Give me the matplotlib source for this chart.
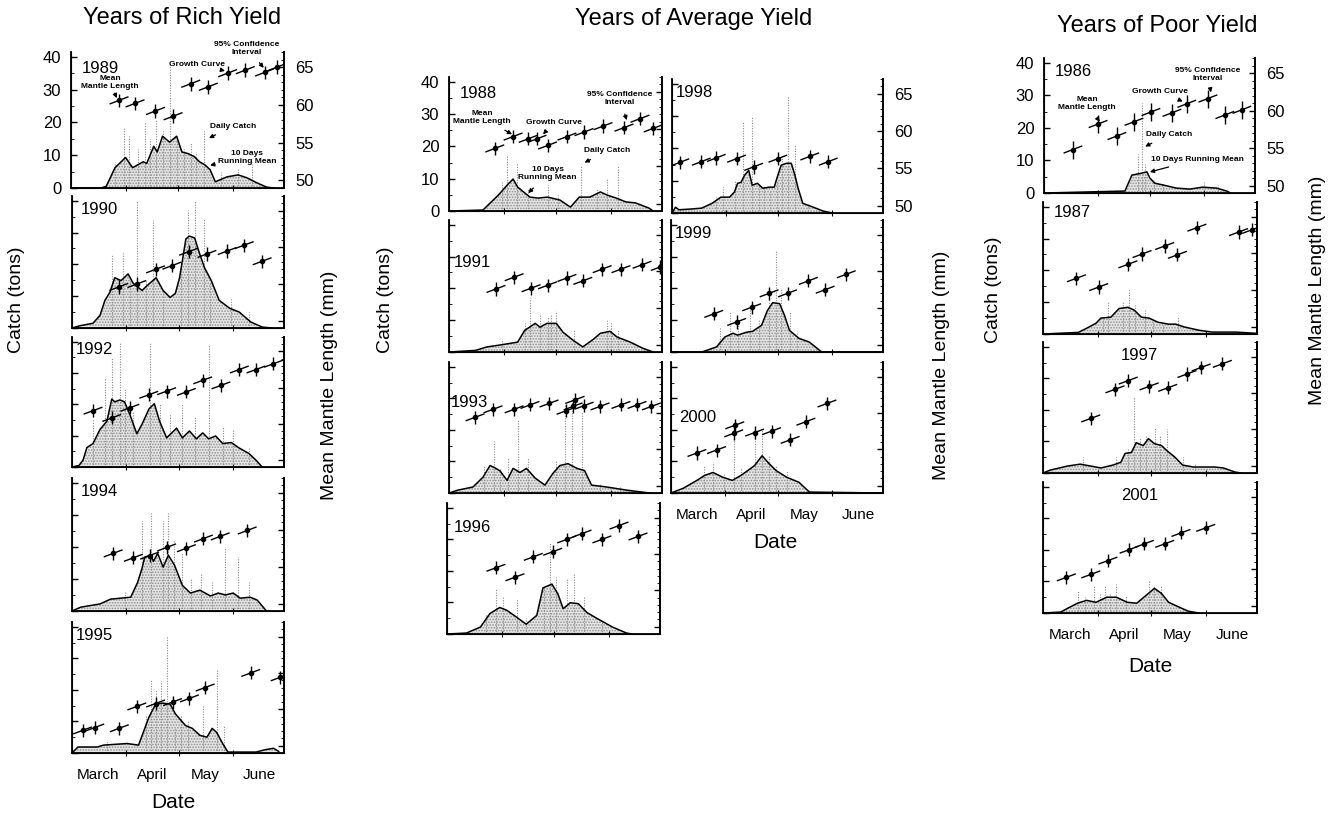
import matplotlib.pyplot as plt

plt.rcParams['font.family'] = ['Liberation Sans', 'DejaVu Sans']
plt.rcParams['hatch.linewidth'] = 0.8
plt.rcParams['hatch.color'] = '#8f8f8f'

W, H = 1342, 816

# x axis: days after 1 March
months = ['March', 'April', 'May', 'June']
month_start = [31, 61, 92]
month_mid = [15, 46, 76, 107]

# 10 days running mean of catch (day, tons)
run_1989 = [(0, 0), (17, 0), (20, 0.5), (25, 6.2), (31, 9.3), (35, 6.2), (41, 8), (43, 7.5), (47, 12.7), (49, 11),
            (52, 15.8), (56, 14), (60, 15.8), (63, 11), (66.5, 10.5), (70, 9.6), (73, 8), (76, 7.1), (79, 5.6),
            (82, 1.9), (88.6, 3.4), (95, 4), (100, 3.1), (105.5, 1.6), (111, 0.3), (115, 0)]
run_1990 = [(0, 0), (4.5, 0.7), (12, 1.5), (16, 4), (18.8, 8.7), (21.6, 11.2), (24.4, 15.8), (28, 14.9), (32, 17),
            (35, 14), (40, 11.8), (43, 13.4), (48, 15.8), (52, 11.8), (56, 9.6), (59, 10.9), (61.4, 15.8), (65, 28),
            (67, 28.9), (70, 28.3), (72.7, 23.6), (75.6, 19), (79.5, 14.9), (84, 8.7), (90, 6.2), (95.5, 5),
            (102, 1.9), (108.5, 0.3), (114, 0)]
run_1992 = [(0, 0), (4, 0.5), (6.3, 2.2), (8.5, 6.2), (12, 7.5), (16, 12), (19.9, 14.6), (22.7, 21.7), (24.4, 20.8),
            (27.3, 21.4), (30, 20.8), (33, 16.8), (37, 10.6), (40, 13.7), (44, 18.6), (47, 20.2), (50, 14.6),
            (54, 9.3), (59.7, 12.4), (63, 9.3), (67, 11.5), (71, 9), (74.6, 10.9), (78, 9), (82, 9.9), (86, 7.5),
            (91, 7.8), (95, 6.2), (101, 4.3), (105, 2.2), (108.5, 0)]
run_1994 = [(0, 0), (5, 1.2), (16, 2.2), (22, 3.7), (33.5, 4.3), (37.5, 9), (40, 13.4), (41.5, 16.8), (44.9, 17.4),
            (46.5, 15.5), (48.9, 18), (52, 13.7), (55, 17.4), (58.5, 14.3), (63, 8), (67.6, 5.6), (73, 6.5),
            (79, 4.7), (83.5, 5.6), (87.5, 5), (92, 5.6), (96, 4), (101.7, 4.3), (105.7, 3.4), (111, 0)]
run_1995 = [(0, 0), (3.4, 1.9), (14.5, 1.9), (18, 2.5), (31.4, 3), (38, 2.5), (41, 7), (43.8, 11.2), (47.7, 15.5),
            (51.7, 15.8), (56, 15.5), (59, 12.4), (64.8, 8.7), (68.7, 7.8), (73, 5.6), (77, 5), (80, 7.8),
            (82.6, 6.5), (86, 3), (89, 0.3), (105, 0.3), (110, 1), (115, 1.5), (118, 0.5)]
run_1988 = [(0, 0), (19.3, 0.3), (24, 2.8), (28, 4.9), (33, 8), (36.4, 9.9), (39, 7.4), (43, 5.6), (46, 4.3),
            (50.6, 4), (56, 4.3), (63, 3.4), (69, 1.2), (74, 4.3), (80, 4.3), (86, 5.9), (90, 4.9), (95, 4),
            (100.6, 2.8), (106, 2.5), (113.6, 0.9), (116, 0)]
run_1991 = [(0, 0), (15, 0.5), (21.6, 1.6), (29, 2.2), (39, 3.1), (43, 6.8), (49, 9), (51.7, 7.8), (55.6, 9),
            (61, 9), (64.8, 6.2), (70.5, 3.7), (76, 1.6), (82, 4), (86, 5.9), (91.5, 6.5), (95.5, 4.7), (103, 3.1),
            (110, 1.2), (116, 0)]
run_1993 = [(0, 0), (5, 0.9), (13.6, 1.9), (19.3, 5), (23.3, 8.7), (26, 8), (29, 7), (33, 4), (36.4, 7.8),
            (40.3, 6.5), (44, 7.8), (49, 4.7), (54.5, 2.5), (59, 6.2), (63, 8.7), (67.6, 9.3), (72.7, 7.8),
            (77, 7.1), (81, 2.5), (89.6, 1.9), (101, 0.9), (114, 0)]
run_1996 = [(0, 0), (11, 0.3), (19, 2.2), (24.4, 6.5), (30, 8.4), (34, 7.5), (39.6, 5.3), (45, 3.1), (51, 5.9),
            (54.5, 14.6), (59.6, 15.8), (63, 12.7), (66, 8), (70, 9.9), (74.6, 9.6), (79.5, 6.8), (85, 5),
            (94, 2.2), (102, 0.3), (105, 0)]
run_1998 = [(0, 0), (2, 1.8), (4, 1), (10, 1.2), (17, 1.5), (23, 3), (28, 4.9), (33, 4.9), (35.8, 6.5),
            (37.6, 9.2), (39.6, 9.5), (41.6, 11.7), (44, 13.2), (46, 8.6), (49, 9.2), (52, 7.7), (56, 8),
            (58.6, 8), (60.7, 11.7), (62.6, 14.8), (65.6, 15.4), (68.4, 15.4), (70.5, 11.7), (72.3, 7.7),
            (75, 3), (81, 1.8), (86.7, 0.6), (92, 0)]
run_1999 = [(0, 0), (17.6, 0), (26, 1.6), (30.7, 4.7), (35.4, 5.9), (38, 5.3), (43, 6.2), (46.6, 6.5),
            (51.7, 8.4), (55, 13), (58, 15.5), (62, 15.2), (64.8, 11.5), (67.6, 6.8), (73, 4.3), (79, 3.1),
            (86, 0), (121, 0)]
run_2000 = [(0, 0), (7, 1.5), (14.8, 4), (19.3, 5.6), (24, 6.5), (29.5, 5), (35, 4), (40, 5.6), (43.8, 7.1),
            (47.7, 8.7), (52, 11.8), (56, 9.3), (60, 7.1), (66, 5), (73, 3.4), (79, 0.3), (121, 0)]
run_1986 = [(0, 0), (46.4, 0.6), (50.4, 5.5), (56, 6.1), (59, 6.5), (60.7, 4.6), (63.6, 3), (68, 2.5), (76, 1.5),
            (83.6, 1.2), (91, 1.8), (99, 1.5), (104.8, 0.6), (107, 0)]
run_1987 = [(0, 0), (20, 0.5), (25, 1.9), (30, 3.4), (32.7, 5), (38.4, 5.3), (43, 8), (48, 8.4), (51.6, 7.5),
            (55.6, 5.3), (60, 5), (65, 3.7), (71, 3.1), (75, 3.1), (80, 2.2), (88, 1.2), (95.7, 0.6), (109, 0.6),
            (121, 0.2)]
run_1997 = [(0, 0), (4, 0.9), (13.8, 2.2), (21, 2.8), (27, 2.2), (32.7, 1.6), (39.5, 2.5), (44, 3.4), (46.4, 6.2),
            (50, 6.5), (52.7, 9.6), (56.7, 8.7), (59.6, 10.9), (63, 9.3), (67, 8.7), (70, 7.1), (74.6, 5), (79, 2.5),
            (85, 1.9), (97, 1.9), (102, 1.6), (108.6, 0.3), (112, 0)]
run_2001 = [(0, 0), (10, 0.3), (14.3, 1.6), (19.5, 3.1), (24.6, 4), (30, 3.4), (36, 5), (41.5, 5), (47.6, 3.4),
            (53, 3.1), (59.6, 6.2), (63, 7.8), (67, 6.2), (71, 3.4), (76.8, 1.9), (82, 0.6), (88, 0)]

# daily catch (day, tons)
daily_1989 = [(25, 8), (30, 18.6), (33, 16), (38, 12), (42, 19.9), (45, 15), (48.5, 21), (52, 18), (56, 37.6),
              (60, 16), (64, 12), (68, 14), (71, 11), (75.5, 17.4), (85, 5), (95, 6), (103, 8)]
daily_1990 = [(22.6, 23.3), (29, 23.6), (33, 15), (37, 40), (42, 15), (46, 34), (52, 12), (62, 20), (66, 37),
              (70, 40), (75.6, 34.5), (79, 14), (91, 9), (101, 5)]
daily_1992 = [(12, 15), (18.8, 28), (22.7, 35), (27.3, 40), (30, 25), (35, 18), (44.3, 40), (50, 20), (56, 17),
              (63, 20), (70, 16), (78, 39), (86, 13), (92, 12), (101, 6)]
daily_1994 = [(30, 6), (40, 28), (45, 31), (51.7, 28), (55, 31), (58, 22), (63, 18), (68, 10), (73.6, 12),
              (80, 9), (87.5, 20), (95, 17), (101, 9)]
daily_1995 = [(20, 4), (42, 12), (45, 23.6), (48, 20), (50.6, 22.7), (54.5, 37), (59, 8), (62, 12), (66, 10),
              (75, 15), (82.6, 26.7), (87, 9)]
daily_1988 = [(30, 9), (33, 17.3), (38.6, 15), (45, 7), (56, 8), (62, 5), (75, 14), (84, 7), (90, 10), (96, 14)]
daily_1991 = [(30, 4), (43, 9), (46, 17), (51.7, 12), (56, 11), (58, 12), (61, 13), (71, 7), (89.6, 10.5),
              (92, 9), (96, 7)]
daily_1993 = [(20, 9), (25.6, 16.5), (29, 8), (33.5, 11), (39, 23.6), (45, 11), (61, 10), (66, 29), (70, 30),
              (75.6, 25.8), (86, 3), (97, 2)]
daily_1996 = [(22, 6), (28, 14.3), (32, 12), (39.6, 11), (45, 5), (55, 15), (58.5, 29), (62, 18), (68, 17.4),
              (72, 19.3), (78, 12), (88, 4)]
daily_1998 = [(25, 5), (29, 8), (36, 10), (40.5, 28.6), (46, 30), (50, 9), (53, 8), (56, 7), (60, 10), (63, 18),
              (66.5, 36.3), (70.5, 21), (78, 3)]
daily_1999 = [(28, 8), (33.5, 13), (38, 9), (45, 14), (50, 10), (56, 18.5), (60, 32), (63, 20), (68, 13), (72, 6)]
daily_2000 = [(19, 9), (24, 9.8), (30, 6), (36, 19.6), (40, 8), (48, 19), (52, 20), (56, 12), (60, 9), (66, 7)]
daily_1986 = [(54, 12), (56, 27.7), (58, 9), (63, 4), (68, 3), (91.7, 3.4), (100, 2.5)]
daily_1987 = [(34, 5), (37, 10), (45, 10), (48.7, 14.3), (52, 9), (57.7, 7.5), (62, 4), (68, 3), (76.5, 5.5)]
daily_1997 = [(22.7, 5), (41, 5), (48, 8), (51.6, 24), (55, 11), (58, 12), (63.6, 14.3), (66, 12), (70, 14),
              (79, 5), (86, 3)]
daily_2001 = [(20, 7), (24, 5), (28.6, 8.7), (32, 6), (35, 8.7), (38, 6), (41.5, 9.3), (47, 5.6), (60, 10),
              (63, 9), (66.5, 9)]

# mean mantle length (day, mm)
ml_1989 = [(27.3, 60.6), (36.4, 60.2), (48, 59.2), (58, 58.5), (68, 62.8), (78, 62.4), (89, 64.2), (99, 64.6),
           (110, 64.3), (117, 65)]
ml_1990 = [(26.7, 54.6), (37, 55), (47.7, 57), (57, 57.5), (66.5, 59.4), (77, 59.1), (88.6, 59.5), (98.3, 60.3),
           (108.5, 58.1)]
ml_1992 = [(12, 56.8), (22.7, 55.8), (33, 57.2), (43.8, 59), (54, 59.5), (65.3, 59.4), (74.6, 61), (85, 60.3),
           (95.5, 62.5), (105, 62.5), (115, 63.3)]
ml_1994 = [(23.5, 56.8), (35, 56.2), (44.3, 56.5), (54, 57.6), (65.3, 57.5), (75, 58.8), (84.6, 59.1), (100, 59.9)]
ml_1995 = [(6, 52.1), (13, 52.5), (27, 52.4), (37, 55.4), (47.7, 55.8), (57.4, 56), (67, 56.5), (76, 58),
           (102, 60), (118.8, 59.4)]
ml_1988 = [(26, 57.4), (36.4, 59), (45, 58.7), (50, 58.7), (56, 57.8), (67, 59), (76.7, 59.6), (87.5, 60.4),
           (99.4, 60.2), (108.5, 61.4), (116, 60.1)]
ml_1991 = [(26.7, 57.6), (37, 59.2), (46.6, 57.7), (56, 58.1), (67, 59.1), (76, 58.7), (87, 60.3), (97.7, 60.3),
           (109.7, 60.9), (120, 60.6)]
ml_1993 = [(14.8, 59.4), (25, 60.5), (37, 60.5), (46, 61.1), (56.8, 61.3), (66.5, 60.3), (70.5, 60.9),
           (71.6, 61.8), (76.7, 61), (85.8, 60.9), (97.7, 61.1), (106.8, 61.1), (115, 60.9)]
ml_1996 = [(27.8, 58.1), (38.6, 56.8), (49, 59.6), (60, 60.3), (68, 62), (76.7, 62.8), (88, 62), (97.7, 63.9),
           (108.5, 62.4)]
ml_1998 = [(4.5, 55.8), (16.8, 55.9), (25.4, 56.4), (37, 56.3), (46.8, 55.2), (60.7, 56.3), (79, 56.6),
           (89.6, 55.9)]
ml_1999 = [(24.4, 54.2), (37.5, 53.1), (46, 55.1), (56, 57), (66.5, 57), (78.4, 58.7), (88, 57.5), (100, 59.6)]
ml_2000 = [(14.8, 54.5), (26, 54.9), (35.8, 57.2), (36.4, 58.3), (47.7, 57.3), (57.4, 57.5), (68, 56.3),
           (77, 58.8), (89, 61.3)]
ml_1986 = [(16.6, 54.8), (31, 58.2), (41.8, 56.6), (51.6, 58.5), (61.3, 59.8), (73.4, 59.7), (81.9, 60.9),
           (94, 61.6), (103.7, 59.4), (113.5, 60.1)]
ml_1987 = [(18.9, 56.6), (31.5, 55.4), (48, 58.5), (56, 59.9), (68.8, 61), (76, 59.8), (87, 63.5), (110.6, 62.9),
           (118, 63.2)]
ml_1997 = [(27, 56.5), (40.7, 60.5), (48.2, 61.7), (60, 60.9), (70.5, 60.7), (81.4, 62.6), (89.4, 63.5),
           (101.4, 64)]
ml_2001 = [(13.2, 53.9), (27, 54.3), (36.7, 56.2), (48.7, 57.7), (57.3, 58.5), (68.8, 58.5), (78, 60), (92, 60.7)]

# key labels in the first panel of each group: (text, text pos, arrow tip) in (day, mm)
notes_1989 = [('Mean\nMantle Length', (22.2, 62.9), (26, 60.9)),
              ('Growth Curve', (71.5, 65.4), (87.5, 64.5)),
              ('95% Confidence\nInterval', (100, 67.5), (109.5, 64.9)),
              ('Daily Catch', (92, 57.2), (78.4, 55.6)),
              ('10 Days\nRunning Mean', (100, 53.1), (79, 52))]
notes_1988 = [('Mean\nMantle Length', (18.8, 61.6), (35.8, 59.3)),
              ('Growth Curve', (59.7, 60.9), (53.4, 59.3)),
              ('95% Confidence\nInterval', (97, 64.1), (101, 61.2)),
              ('Daily Catch', (90, 57.1), (77, 55.5)),
              ('10 Days\nRunning Mean', (56, 54), (45, 51.4))]
notes_1986 = [('Mean\nMantle Length', (24.6, 60.9), (32, 58.5)),
              ('Growth Curve', (66.5, 62.5), (79.6, 61.2)),
              ('95% Confidence\nInterval', (94, 64.8), (95.7, 62.4)),
              ('Daily Catch', (72, 56.8), (58, 55.2)),
              ('10 Days Running Mean', (88, 53.5), (60.7, 51.8))]

fig = plt.figure(figsize=(W / 100, H / 100), dpi=100)


def panel(box, year, run, daily, ml, ypos, ha='left', left_lab=False, right_lab=False,
          month_lab=False, notes=None, ci=0.9):
    x0, y0, x1, y1 = box
    ax = fig.add_axes([x0 / W, 1 - y1 / H, (x1 - x0) / W, (y1 - y0) / H])
    rx = [d for d, c in run]
    ry = [c for d, c in run]
    ax.fill_between(rx, ry, 0, facecolor='#e6e6e6', hatch='......', edgecolor='#8f8f8f', lw=0, zorder=1)
    ax.vlines([d for d, c in daily], 0, [c for d, c in daily], colors='#8a8a8a', lw=0.8,
              linestyles=(0, (1, 1.3)), zorder=2)
    ax.plot(rx, ry, color='black', lw=1.1, zorder=3)
    ax.set_xlim(0, 121)
    ax.set_ylim(0, 41.5)
    ax.set_yticks([0, 10, 20, 30, 40])
    ax.set_yticks(range(0, 41, 5), minor=True)
    ax.tick_params(axis='y', which='major', direction='in', length=4, width=1, labelsize=12, pad=7,
                   labelleft=left_lab)
    ax.tick_params(axis='y', which='minor', direction='in', length=2)
    ax.set_xticks(month_start)
    ax.tick_params(axis='x', which='major', direction='inout', length=4, labelbottom=False)
    if month_lab:
        ax.set_xticks(month_mid, minor=True)
        ax.set_xticklabels(months, minor=True)
        ax.tick_params(axis='x', which='minor', length=0, labelsize=11, pad=11)
    ax.spines['top'].set_visible(False)
    for s in ['left', 'bottom', 'right']:
        ax.spines[s].set_linewidth(1.3)
    ax.text(ypos[0], ypos[1], str(year), transform=ax.transAxes, ha=ha, va='center', fontsize=12)

    ax2 = ax.twinx()
    ax2.set_ylim(49, 67)
    ax2.set_yticks([50, 55, 60, 65])
    ax2.set_yticks(range(49, 68), minor=True)
    ax2.tick_params(axis='y', which='major', direction='in', length=4, width=1, labelsize=12, pad=8,
                    labelright=right_lab)
    ax2.tick_params(axis='y', which='minor', direction='in', length=2)
    ax2.spines['top'].set_visible(False)
    ax2.spines['right'].set_linewidth(1.3)
    for d, m in ml:
        # growth curve piece through each mean
        ax2.plot([d - 5, d + 5], [m - 0.45, m + 0.45], color='black', lw=1, zorder=4)
        ax2.errorbar(d, m, yerr=ci, fmt='o', ms=3, color='black', elinewidth=1, capsize=0, zorder=5)
    if notes:
        for txt, pos, tip in notes:
            ax2.annotate(txt, xy=tip, xytext=pos, textcoords='data', fontsize=6, fontweight='bold',
                         ha='center', va='center', annotation_clip=False,
                         arrowprops=dict(arrowstyle='-|>', color='black', lw=0.9, mutation_scale=6,
                                         shrinkA=4, shrinkB=0))
    return ax


# rich yield
panel((71, 52, 284, 188), 1989, run_1989, daily_1989, ml_1989, (0.05, 0.88), left_lab=True, right_lab=True,
      notes=notes_1989)
panel((72, 196, 284, 328), 1990, run_1990, daily_1990, ml_1990, (0.04, 0.9))
panel((72, 337, 284, 467), 1992, run_1992, daily_1992, ml_1992, (0.02, 0.9))
panel((72, 478, 284, 611), 1994, run_1994, daily_1994, ml_1994, (0.04, 0.9))
panel((72, 622, 284, 753), 1995, run_1995, daily_1995, ml_1995, (0.02, 0.9), month_lab=True)

# average yield
panel((449, 77, 662, 211), 1988, run_1988, daily_1988, ml_1988, (0.05, 0.88), left_lab=True, notes=notes_1988)
panel((449, 220, 662, 352), 1991, run_1991, daily_1991, ml_1991, (0.02, 0.68))
panel((449, 362, 662, 493), 1993, run_1993, daily_1993, ml_1993, (0.01, 0.69))
panel((447, 503, 660, 634), 1996, run_1996, daily_1996, ml_1996, (0.03, 0.81))
panel((672, 79, 883, 213), 1998, run_1998, daily_1998, ml_1998, (0.02, 0.9), right_lab=True)
panel((671, 220, 883, 352), 1999, run_1999, daily_1999, ml_1999, (0.02, 0.9))
panel((671, 362, 883, 493), 2000, run_2000, daily_2000, ml_2000, (0.04, 0.58), month_lab=True)

# poor yield
panel((1044, 58, 1255, 193), 1986, run_1986, daily_1986, ml_1986, (0.05, 0.9), left_lab=True, right_lab=True,
      notes=notes_1986, ci=1.2)
panel((1043, 202, 1257, 334), 1987, run_1987, daily_1987, ml_1987, (0.05, 0.92))
panel((1043, 342, 1257, 473), 1997, run_1997, daily_1997, ml_1997, (0.45, 0.9), ha='center')
panel((1043, 482, 1257, 613), 2001, run_2001, daily_2001, ml_2001, (0.45, 0.9), ha='center', month_lab=True)

# titles and axis names
fig.text(182 / W, 1 - 18 / H, 'Years of Rich Yield', ha='center', va='center', fontsize=17)
fig.text(694 / W, 1 - 19 / H, 'Years of Average Yield', ha='center', va='center', fontsize=17)
fig.text(1157 / W, 1 - 26 / H, 'Years of Poor Yield', ha='center', va='center', fontsize=17)

for x, y in [(17, 300), (385, 300), (993, 290)]:
    fig.text(x / W, 1 - y / H, 'Catch (tons)', rotation=90, ha='center', va='center', fontsize=14)
for x, y in [(330, 385), (942, 365), (1318, 290)]:
    fig.text(x / W, 1 - y / H, 'Mean Mantle Length (mm)', rotation=90, ha='center', va='center', fontsize=14)
for x, y in [(173, 803), (775, 543), (1150, 666)]:
    fig.text(x / W, 1 - y / H, 'Date', ha='center', va='center', fontsize=15)

fig.savefig('out.png', dpi=100)
